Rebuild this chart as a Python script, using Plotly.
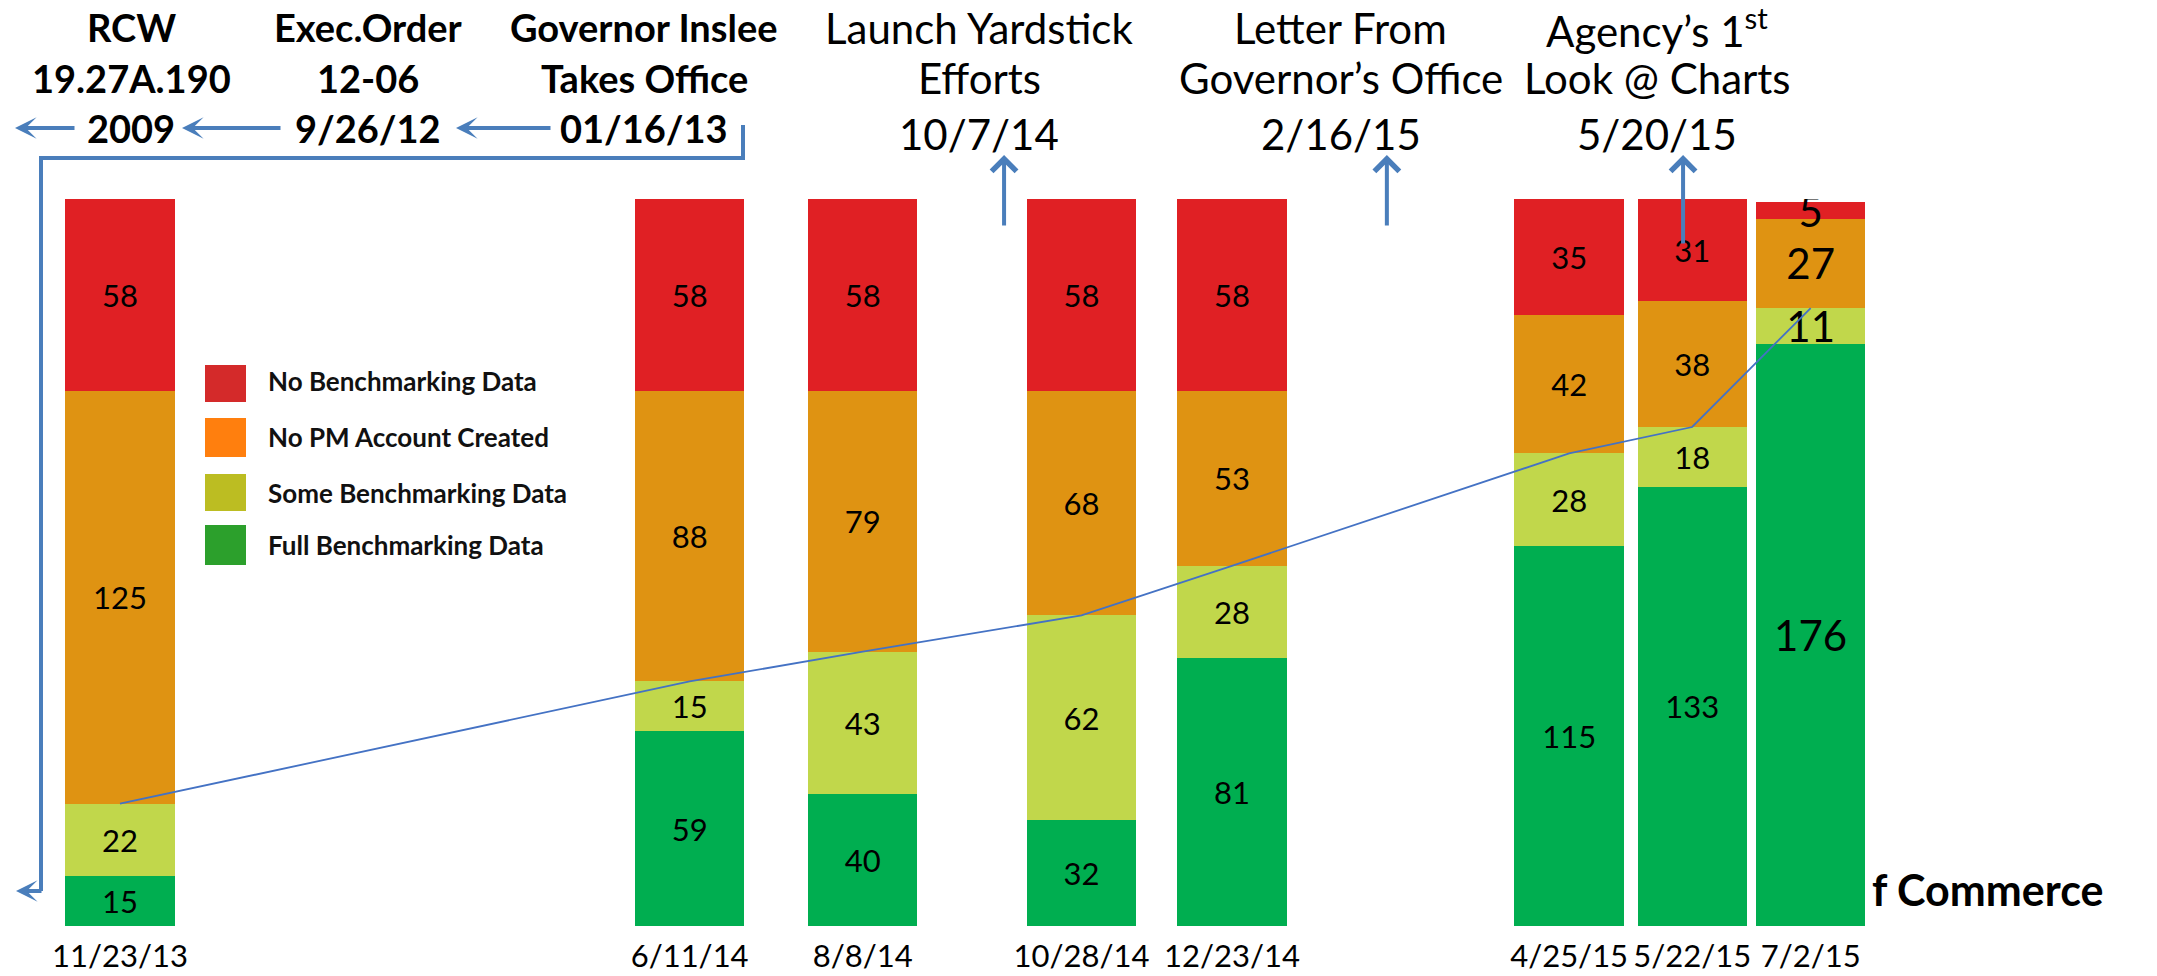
import plotly.graph_objects as go

# ---------------- data ----------------
dates = ["2013-11-23", "2014-06-11", "2014-08-08", "2014-10-28",
         "2014-12-23", "2015-04-25", "2015-05-22", "2015-07-02"]
date_labels = ["11/23/13", "6/11/14", "8/8/14", "10/28/14",
               "12/23/14", "4/25/15", "5/22/15", "7/2/15"]
full_data = [15, 59, 40, 32, 81, 115, 133, 176]
some_data = [22, 15, 43, 62, 28, 28, 18, 11]
no_pm_account = [125, 88, 79, 68, 53, 42, 38, 27]
no_benchmarking = [58, 58, 58, 58, 58, 35, 31, 5]
series_names = ["No Benchmarking Data", "No PM Account Created",
                "Some Benchmarking Data", "Full Benchmarking Data"]

event_dates = ["2014-10-07", "2015-02-16", "2015-05-20"]
event_lines = [["Launch Yardstick", "Efforts", "10/7/14"],
               ["Letter From", "Governor’s Office", "2/16/15"],
               ["Agency’s 1<sup>st</sup>", "Look @ Charts", "5/20/15"]]
history_lines = [["RCW", "19.27A.190", "2009"],
                 ["Exec.Order", "12-06", "9/26/12"],
                 ["Governor Inslee", "Takes Office", "01/16/13"]]
logo_text = "f Commerce"

# ---------------- styles ----------------
W, H = 2157, 976
TOP, BOTTOM = 199, 50
FONT = "Lato"
DAY = 86400000
BAR_WIDTH = 24 * DAY
text_sizes = [31] * 7 + [42]
bar_colors = {"full": "#00AE50", "some": "#C1D74B", "nopm": "#DF9312", "nobench": "#E02024"}
legend_colors = ["#D42A2A", "#FF7F0E", "#BCBD22", "#2CA02C"]
ARROW = "#4A7EBB"
# compressed (broken) stretches of the time axis, between the snapshots
axis_breaks = [("2014-01-10", "2014-03-26"), ("2014-07-01", "2014-07-21"),
               ("2014-08-25", "2014-09-23"), ("2014-10-10", "2014-10-14"),
               ("2014-11-13", "2014-12-06"), ("2015-01-10", "2015-01-31"),
               ("2015-02-25", "2015-03-25"), ("2015-06-04", "2015-06-19")]
x_range = ["2013-10-27 16:00", "2015-09-16 00:00"]
event_xshift = [-25, -46, -26]


def px(x):
    return x / W


def py(y):
    return (H - BOTTOM - y) / (H - TOP - BOTTOM)


fig = go.Figure()

stack = [(full_data, "full", series_names[3]),
         (some_data, "some", series_names[2]),
         (no_pm_account, "nopm", series_names[1]),
         (no_benchmarking, "nobench", series_names[0])]
for vals, key, name in stack:
    fig.add_trace(go.Bar(
        x=dates, y=vals, name=name, width=BAR_WIDTH,
        marker=dict(color=bar_colors[key], line=dict(width=0)),
        text=[str(v) for v in vals], textposition="inside",
        insidetextanchor="middle", textangle=0, constraintext="none",
        textfont=dict(family=FONT, size=text_sizes, color="black"),
        showlegend=False, hoverinfo="skip"))

# trend line through cumulative (full + some)
cum = [f + s for f, s in zip(full_data, some_data)]
fig.add_trace(go.Scatter(x=dates, y=cum, mode="lines",
                         line=dict(color="#4472C4", width=1.8),
                         showlegend=False, hoverinfo="skip"))

ann = []
shapes = []

# history text (bold) at upper left
hist_x = [131, 368, 644]
line_y = [27, 78, 128]
for gx, lines in zip(hist_x, history_lines):
    for ly, t in zip(line_y, lines):
        ann.append(dict(x=px(gx), y=py(ly), xref="paper", yref="paper",
                        text=f"<b>{t}</b>", showarrow=False,
                        xanchor="center", yanchor="middle",
                        font=dict(family=FONT, size=38, color="black")))

# left arrows
for head, tail in [(15, 76), (182, 282), (456, 552)]:
    ann.append(dict(x=px(head), y=py(128), xref="paper", yref="paper",
                    ax=tail - head, ay=0, text="", showarrow=True,
                    arrowhead=3, arrowsize=0.9, arrowwidth=4, arrowcolor=ARROW))

# bracket
shapes.append(dict(type="path", xref="paper", yref="paper",
                   path=f"M {px(743)},{py(125)} L {px(743)},{py(158)} "
                        f"L {px(41)},{py(158)} L {px(41)},{py(891)}",
                   line=dict(color=ARROW, width=4)))
ann.append(dict(x=px(16), y=py(891), xref="paper", yref="paper",
                ax=27, ay=0, text="", showarrow=True,
                arrowhead=3, arrowsize=0.9, arrowwidth=4, arrowcolor=ARROW))

# event texts + up arrows
ev_y = [28, 78, 134]
tails = [72, 72, 90]
for d, lines, tl, xs in zip(event_dates, event_lines, tails, event_xshift):
    for ly, t in zip(ev_y, lines):
        ann.append(dict(x=d, y=py(ly), xref="x", yref="paper", xshift=xs,
                        text=t, showarrow=False, xanchor="center", yanchor="middle",
                        font=dict(family=FONT, size=42, color="black")))
    ann.append(dict(x=d, y=py(155), xref="x", yref="paper",
                    ax=0, ay=tl, text="", showarrow=True,
                    arrowhead=4, arrowsize=1.2, arrowwidth=4, arrowcolor=ARROW))

# manual legend
sw_y = [(365, 402), (418, 457), (474, 511), (525, 565)]
txt_y = [381, 437, 493, 545]
for (y0, y1), ty, col, name in zip(sw_y, txt_y, legend_colors, series_names):
    shapes.append(dict(type="rect", xref="paper", yref="paper",
                       x0=px(205), x1=px(246), y0=py(y1), y1=py(y0),
                       fillcolor=col, line=dict(width=0)))
    ann.append(dict(x=px(266), y=py(ty), xref="paper", yref="paper",
                    text=f"<b>{name}</b>", showarrow=False,
                    xanchor="left", yanchor="middle",
                    font=dict(family=FONT, size=26, color="#111111")))

# logo fragment
ann.append(dict(x=px(1870), y=py(889), xref="paper", yref="paper",
                text=f"<b>{logo_text}</b>", showarrow=False,
                xanchor="left", yanchor="middle",
                font=dict(family=FONT, size=43, color="black")))

fig.update_layout(
    width=W, height=H, barmode="stack",
    margin=dict(l=0, r=0, t=TOP, b=BOTTOM, pad=0),
    paper_bgcolor="white", plot_bgcolor="white",
    showlegend=False,
    annotations=ann, shapes=shapes,
    xaxis=dict(type="date", range=x_range, tickvals=dates, ticktext=date_labels,
               rangebreaks=[dict(bounds=[a, b]) for a, b in axis_breaks],
               tickfont=dict(family=FONT, size=31, color="black"), tickangle=0,
               showgrid=False, zeroline=False, showline=False, ticks="",
               ticklabelstandoff=9, automargin=False, fixedrange=True),
    yaxis=dict(range=[0, 220], visible=False, fixedrange=True, automargin=False),
)

fig.write_html("out.html", config={"displayModeBar": False},
               post_script="document.body.style.margin='0px';")
